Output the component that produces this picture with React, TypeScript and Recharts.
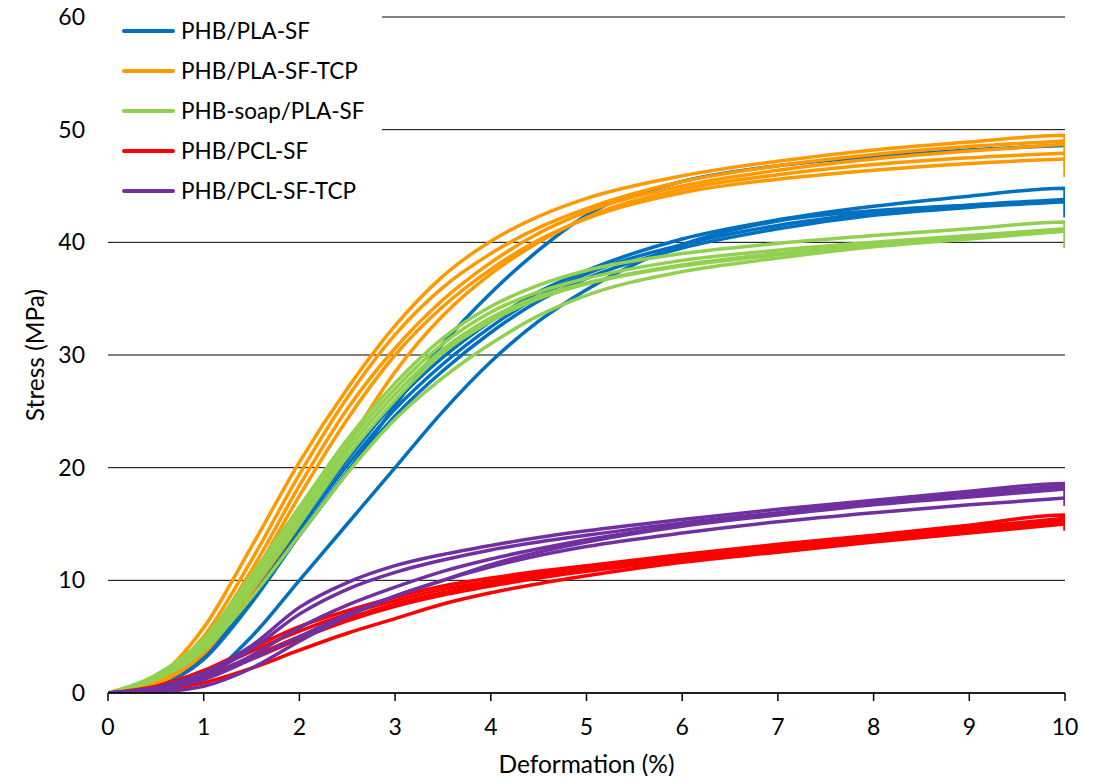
import React from 'react';
import { LineChart, Line, XAxis, YAxis, CartesianGrid, Legend, Label } from 'recharts';

// Strain (%) sample positions shared by all specimens
const STRAIN = [0, 0.5, 1, 1.5, 2, 2.5, 3, 3.5, 4, 4.5, 5, 6, 7, 8, 9, 10];

const X_TICKS = [0, 1, 2, 3, 4, 5, 6, 7, 8, 9, 10];
const Y_TICKS = [0, 10, 20, 30, 40, 50, 60];

const SERIES_NAMES = ['PHB/PLA-SF', 'PHB/PLA-SF-TCP', 'PHB-soap/PLA-SF', 'PHB/PCL-SF', 'PHB/PCL-SF-TCP'];
const SERIES_COLORS = ['#0070C0', '#FF9900', '#92D050', '#FF0000', '#7030A0'];

// Stress (MPa) of each specimen, read at STRAIN positions
const PLA_SF = [
  [0, 0.8, 3.5, 8.8, 15.0, 20.7, 25.8, 29.8, 33.0, 35.6, 37.5, 40.3, 42.0, 43.2, 44.1, 44.8],
  [0, 0.7, 3.0, 8.3, 14.0, 19.6, 25.5, 31.0, 35.5, 39.3, 42.4, 45.4, 46.8, 47.6, 48.2, 48.6],
  [0, 0.7, 3.2, 8.3, 14.5, 20.2, 25.2, 29.2, 32.5, 35.2, 37.2, 39.8, 41.5, 42.6, 43.3, 43.8],
  [0, 0.6, 3.0, 8.0, 14.0, 19.6, 24.6, 28.6, 32.0, 34.8, 36.8, 39.5, 41.2, 42.4, 43.1, 43.6],
  [0, 0.2, 1.3, 5.0, 10.0, 15.0, 20.0, 25.0, 29.4, 33.0, 35.8, 39.8, 41.9, 42.8, 43.3, 43.7],
];
const PLA_SF_TCP = [
  [0, 1.3, 5.8, 13.0, 20.5, 27.0, 32.6, 37.0, 40.1, 42.3, 43.9, 45.9, 47.2, 48.2, 48.9, 49.5],
  [0, 1.2, 5.0, 11.8, 19.4, 26.2, 31.8, 36.0, 39.0, 41.3, 43.0, 45.4, 46.8, 47.8, 48.5, 49.0],
  [0, 1.1, 4.5, 10.9, 18.4, 25.2, 30.6, 34.9, 38.2, 40.8, 42.7, 45.0, 46.4, 47.4, 48.1, 48.7],
  [0, 1.0, 4.1, 10.2, 17.5, 24.3, 30.0, 34.3, 37.6, 40.2, 42.1, 44.4, 45.6, 46.4, 47.0, 47.4],
  [0, 0.8, 3.5, 9.0, 15.0, 22.0, 28.5, 33.5, 37.2, 40.0, 42.2, 44.7, 46.0, 46.9, 47.5, 47.9],
];
const SOAP_PLA_SF = [
  [0, 1.6, 4.8, 10.5, 16.5, 22.5, 27.5, 31.5, 34.3, 36.2, 37.5, 39.0, 39.9, 40.6, 41.2, 41.8],
  [0, 1.5, 4.5, 10.0, 16.0, 22.0, 27.0, 31.0, 33.8, 35.6, 36.8, 38.4, 39.3, 40.0, 40.6, 41.2],
  [0, 1.4, 4.2, 9.5, 15.5, 21.5, 26.5, 30.5, 33.3, 35.2, 36.4, 38.0, 39.0, 39.8, 40.5, 41.0],
  [0, 1.3, 4.0, 9.2, 15.0, 21.0, 26.0, 30.2, 33.0, 35.0, 36.3, 37.9, 38.9, 39.7, 40.4, 41.0],
  [0, 1.2, 3.8, 8.5, 14.0, 19.5, 24.3, 28.0, 31.0, 33.5, 35.3, 37.4, 38.6, 39.6, 40.3, 41.0],
];
const PCL_SF = [
  [0, 0.6, 2.0, 4.0, 5.9, 7.3, 8.5, 9.5, 10.2, 10.8, 11.3, 12.3, 13.2, 14.0, 14.9, 15.8],
  [0, 0.5, 1.8, 3.7, 5.5, 7.0, 8.2, 9.2, 9.9, 10.6, 11.1, 12.1, 13.0, 13.8, 14.7, 15.5],
  [0, 0.4, 1.5, 3.2, 5.0, 6.6, 7.9, 8.9, 9.7, 10.4, 10.9, 11.9, 12.8, 13.6, 14.5, 15.3],
  [0, 0.4, 1.4, 3.0, 4.8, 6.4, 7.7, 8.7, 9.5, 10.2, 10.8, 11.8, 12.7, 13.5, 14.3, 15.1],
  [0, 0.2, 0.9, 2.2, 3.8, 5.3, 6.6, 7.9, 8.9, 9.7, 10.4, 11.6, 12.5, 13.4, 14.2, 15.0],
];
const PCL_SF_TCP = [
  [0, 0.5, 1.8, 4.2, 7.6, 9.8, 11.3, 12.3, 13.1, 13.8, 14.4, 15.4, 16.3, 17.1, 17.9, 18.6],
  [0, 0.4, 1.6, 3.9, 7.0, 9.2, 10.7, 11.8, 12.7, 13.4, 14.0, 15.1, 16.0, 16.9, 17.7, 18.4],
  [0, 0.3, 1.3, 3.3, 5.8, 7.8, 9.4, 10.8, 11.9, 12.8, 13.6, 14.9, 15.9, 16.8, 17.6, 18.3],
  [0, 0.3, 1.2, 3.0, 5.0, 7.0, 8.6, 10.0, 11.4, 12.5, 13.4, 14.8, 15.8, 16.7, 17.4, 18.1],
  [0, 0.1, 0.6, 2.2, 4.6, 6.8, 8.6, 10.0, 11.2, 12.2, 13.0, 14.2, 15.2, 16.0, 16.7, 17.3],
];

const SERIES_SPECIMENS = [PLA_SF, PLA_SF_TCP, SOAP_PLA_SF, PCL_SF, PCL_SF_TCP];
// stress after the drop at the end of the test (first specimen of each series)
const END_DROP = [42.2, 45.8, 39.5, 14.4, 16.6];

const FONT = 'Lato, "Open Sans", sans-serif';

const LINES = SERIES_SPECIMENS.flatMap((specs, s) =>
  specs.map((vals, k) => {
    const pts = STRAIN.map((x, i) => ({ x, y: vals[i] }));
    if (k === 0) pts.push({ x: 10, y: END_DROP[s] });
    return { id: `s${s}k${k}`, color: SERIES_COLORS[s], name: SERIES_NAMES[s], data: pts };
  })
);

const LegendBox = () => (
  <div style={{ paddingTop: 3, fontFamily: FONT, fontSize: 22.5, color: '#000' }}>
    {SERIES_NAMES.map((n, i) => (
      <div key={n} style={{ display: 'flex', alignItems: 'center', height: 40 }}>
        <div style={{ width: 53, height: 3.5, background: SERIES_COLORS[i], marginLeft: 14, marginRight: 6, borderRadius: 2 }} />
        <span style={{ lineHeight: '40px' }}>{n}</span>
      </div>
    ))}
  </div>
);

export default function App() {
  return (
    <div style={{ margin: -8, width: 1095, height: 784 }}>
      <LineChart
        width={1095}
        height={784}
        margin={{ top: 17, right: 30, left: 18, bottom: 11 }}
        style={{ fontFamily: FONT }}
      >
        <CartesianGrid horizontal vertical={false} stroke="#000" strokeWidth={1} />
        <XAxis
          type="number"
          dataKey="x"
          domain={[0, 10]}
          ticks={X_TICKS}
          allowDataOverflow
          height={80}
          tickSize={8}
          tickMargin={18}
          axisLine={{ stroke: '#000', strokeWidth: 1.5 }}
          tickLine={{ stroke: '#000', strokeWidth: 1.5 }}
          tick={{ fill: '#000', fontSize: 23, fontFamily: FONT }}
        >
          <Label value="Deformation (%)" position="insideBottom" offset={0} style={{ fontSize: 24.5, fill: '#000', fontFamily: FONT }} />
        </XAxis>
        <YAxis
          type="number"
          domain={[0, 60]}
          ticks={Y_TICKS}
          allowDataOverflow
          width={90}
          axisLine={false}
          tickLine={false}
          tickMargin={17}
          tick={{ fill: '#000', fontSize: 23, fontFamily: FONT }}
        >
          <Label value="Stress (MPa)" angle={-90} position="insideLeft" offset={17} style={{ textAnchor: 'middle', fontSize: 24.5, fill: '#000', fontFamily: FONT }} />
        </YAxis>
        <Legend
          layout="vertical"
          align="center"
          verticalAlign="middle"
          content={() => <LegendBox />}
          wrapperStyle={{ left: 108, top: 8, width: 274, height: 212, backgroundColor: '#fff' }}
        />
        {LINES.map((l) => (
          <Line
            key={l.id}
            data={l.data}
            dataKey="y"
            name={l.name}
            type="monotone"
            stroke={l.color}
            strokeWidth={3.5}
            dot={false}
            activeDot={false}
            legendType="none"
            isAnimationActive={false}
          />
        ))}
      </LineChart>
    </div>
  );
}
